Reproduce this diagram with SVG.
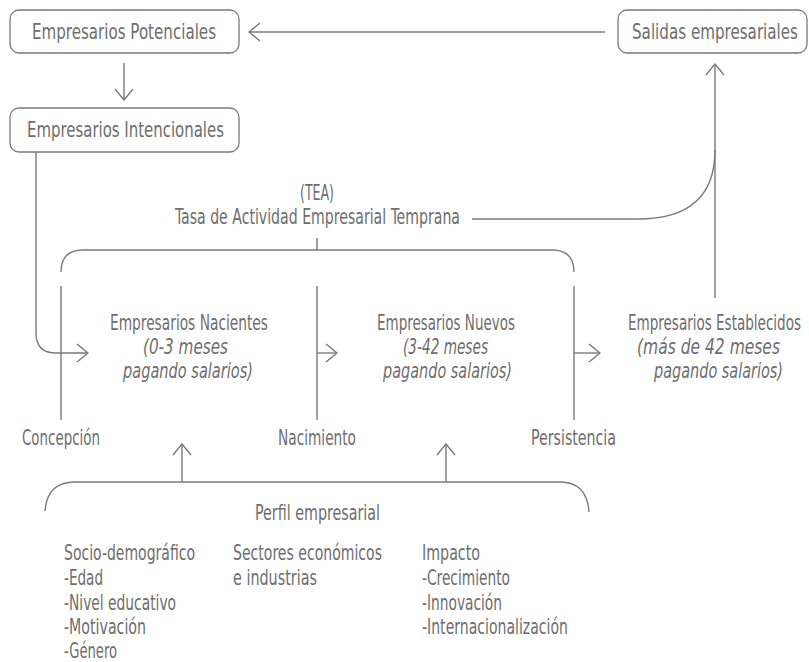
<svg xmlns="http://www.w3.org/2000/svg" width="809" height="662" viewBox="0 0 809 662">
  <style>
    text { font-family: "Liberation Sans Narrow", "DejaVu Sans Condensed", "Liberation Sans", sans-serif; font-stretch: condensed; fill: #6e6e6e; font-size: 20.5px; }
    .title { font-size: 21px; }
    .it { font-style: italic; }
    .end { text-anchor: end; }
    .sm { font-size: 15px; }
    .box { fill: #ffffff; stroke: #7a7a7a; stroke-width: 1.3; }
    .ln { fill: none; stroke: #7a7a7a; stroke-width: 1.4; }
    .arr { fill: none; stroke: #7a7a7a; stroke-width: 1.4; marker-end: url(#chev); }
  </style>
  <defs>
    <marker id="chev" markerUnits="userSpaceOnUse" viewBox="0 0 13 20" refX="12" refY="10" markerWidth="13" markerHeight="20" orient="auto">
      <path d="M1,1 L12,10 L1,19" fill="none" stroke="#7a7a7a" stroke-width="1.4"/>
    </marker>
  </defs>
  <rect width="809" height="662" fill="#ffffff"/>

  <!-- connectors -->
  <g id="connectors">
    <line class="arr" x1="605" y1="32" x2="249" y2="32"/>
    <line class="arr" x1="124" y1="63" x2="124" y2="100"/>
    <path class="arr" d="M36,152 V333 Q36,353 56,353 H88"/>
    <line class="arr" x1="317" y1="353" x2="337" y2="353"/>
    <line class="arr" x1="574" y1="353" x2="600" y2="353"/>
    <line class="arr" x1="715" y1="298" x2="715" y2="64"/>
    <path class="ln" d="M472,219 H638 C690,219 715,195 715,150"/>
    <!-- TEA bracket -->
    <line class="ln" x1="317" y1="238" x2="317" y2="250"/>
    <path class="ln" d="M61,272 Q61,250 83,250 H552 Q574,250 574,272"/>
    <line class="ln" x1="61" y1="286" x2="61" y2="420"/>
    <line class="ln" x1="317" y1="286" x2="317" y2="420"/>
    <line class="ln" x1="574" y1="286" x2="574" y2="420"/>
    <!-- profile bracket -->
    <path class="ln" d="M45,511 Q47,482 75,482 H560 Q587,482 589,512"/>
    <line class="arr" x1="182" y1="482" x2="182" y2="444"/>
    <line class="arr" x1="446" y1="482" x2="446" y2="444"/>
  </g>

  <g id="potenciales">
    <rect class="box" x="10" y="10" width="229" height="43" rx="9"/>
    <text class="title" x="32" y="39" textLength="184" lengthAdjust="spacingAndGlyphs">Empresarios Potenciales</text>
  </g>
  <g id="intencionales">
    <rect class="box" x="10" y="108" width="229" height="44" rx="9"/>
    <text class="title" x="27" y="137" textLength="197" lengthAdjust="spacingAndGlyphs">Empresarios Intencionales</text>
  </g>
  <g id="salidas">
    <rect class="box" x="618" y="10" width="189" height="43" rx="9"/>
    <g transform="translate(632,39) scale(1,1.4)">
      <text class="sm" x="0" y="0" textLength="166" lengthAdjust="spacingAndGlyphs">Salidas empresariales</text>
    </g>
  </g>

  <g id="tea">
    <text x="300" y="200" textLength="34" lengthAdjust="spacingAndGlyphs">(TEA)</text>
    <text x="175" y="224" textLength="285" lengthAdjust="spacingAndGlyphs">Tasa de Actividad Empresarial Temprana</text>
  </g>

  <g id="nacientes">
    <text x="110" y="330" textLength="158" lengthAdjust="spacingAndGlyphs">Empresarios Nacientes</text>
    <text class="it" x="143" y="354" textLength="85" lengthAdjust="spacingAndGlyphs">(0-3 meses</text>
    <text class="it" x="123" y="378" textLength="130" lengthAdjust="spacingAndGlyphs">pagando salarios)</text>
  </g>
  <g id="nuevos">
    <text x="377" y="330" textLength="138" lengthAdjust="spacingAndGlyphs">Empresarios Nuevos</text>
    <text class="it" x="403" y="354" textLength="85" lengthAdjust="spacingAndGlyphs">(3-42 meses</text>
    <text class="it" x="383" y="378" textLength="129" lengthAdjust="spacingAndGlyphs">pagando salarios)</text>
  </g>
  <g id="establecidos">
    <g transform="translate(628,330) scale(1,1.37)">
      <text class="sm" x="0" y="0" textLength="173" lengthAdjust="spacingAndGlyphs">Empresarios Establecidos</text>
    </g>
    <g transform="translate(637,354) scale(1,1.37)">
      <text class="sm it" x="0" y="0" textLength="143" lengthAdjust="spacingAndGlyphs">(más de 42 meses</text>
    </g>
    <g transform="translate(654,378) scale(1,1.37)">
      <text class="sm it" x="0" y="0" textLength="129" lengthAdjust="spacingAndGlyphs">pagando salarios)</text>
    </g>
  </g>

  <g id="fases">
    <text x="22" y="445" textLength="78" lengthAdjust="spacingAndGlyphs">Concepción</text>
    <text x="278" y="445" textLength="78" lengthAdjust="spacingAndGlyphs">Nacimiento</text>
    <text x="531" y="445" textLength="85" lengthAdjust="spacingAndGlyphs">Persistencia</text>
  </g>

  <g id="perfil">
    <text x="255" y="520" textLength="125" lengthAdjust="spacingAndGlyphs">Perfil empresarial</text>
    <text x="64" y="560" textLength="131" lengthAdjust="spacingAndGlyphs">Socio-demográfico</text>
    <text x="64" y="585" textLength="39" lengthAdjust="spacingAndGlyphs">-Edad</text>
    <text x="64" y="610" textLength="112" lengthAdjust="spacingAndGlyphs">-Nivel educativo</text>
    <text x="64" y="634" textLength="82" lengthAdjust="spacingAndGlyphs">-Motivación</text>
    <text x="64" y="658" textLength="53" lengthAdjust="spacingAndGlyphs">-Género</text>
    <text x="233" y="560" textLength="149" lengthAdjust="spacingAndGlyphs">Sectores económicos</text>
    <text x="233" y="585" textLength="84" lengthAdjust="spacingAndGlyphs">e industrias</text>
    <text x="422" y="560" textLength="58" lengthAdjust="spacingAndGlyphs">Impacto</text>
    <text x="422" y="585" textLength="88" lengthAdjust="spacingAndGlyphs">-Crecimiento</text>
    <text x="422" y="610" textLength="80" lengthAdjust="spacingAndGlyphs">-Innovación</text>
    <text x="422" y="634" textLength="146" lengthAdjust="spacingAndGlyphs">-Internacionalización</text>
  </g>
</svg>
